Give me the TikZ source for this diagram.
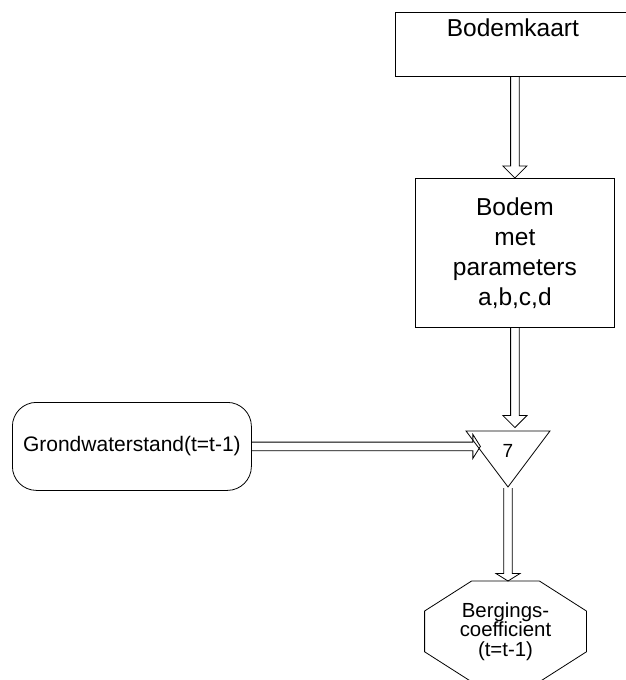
\documentclass[tikz,border=0pt]{standalone}
\usepackage{fontspec}
\setmainfont{Liberation Sans}
\usetikzlibrary{calc,shapes.geometric}

\tikzset{
  kop/.store in=\koplengte, kop=12pt,
  holpijl/.style={to path={let \p1=($(\tikztotarget)!\koplengte!(\tikztostart)$) in
    ($(\tikztostart)!4.3pt!90:(\tikztotarget)$) -- ($(\p1)!4.3pt!-90:(\tikztostart)$)
    -- ($(\p1)!12pt!-90:(\tikztostart)$) -- (\tikztotarget) -- ($(\p1)!12pt!90:(\tikztostart)$)
    -- ($(\p1)!4.3pt!90:(\tikztostart)$) -- ($(\tikztostart)!4.3pt!-90:(\tikztotarget)$)}}
}

\begin{document}
\begin{tikzpicture}[
  x=1pt,y=-1pt,
  line width=.8pt,
  doos/.style={draw,align=center,font=\fontsize{24.5}{30}\selectfont},
  afgerond/.style={draw,rounded corners=24pt,minimum width=239pt,minimum height=88pt,font=\fontsize{21}{25}\selectfont},
  driehoek/.style={draw,isosceles triangle,isosceles triangle stretches,shape border rotate=270,
    minimum width=84pt,minimum height=56pt,inner sep=0pt,font=\fontsize{19}{22}\selectfont},
  achthoek/.style={minimum width=161pt,minimum height=100pt,inner sep=0pt,align=center,font=\fontsize{20.4}{19.5}\selectfont}
]
\useasboundingbox (0,0) rectangle (625,680);
\node[doos,anchor=north west,minimum width=235pt,text height=20pt,text depth=36pt,inner ysep=4pt] (kaart) at (395,12) {Bodemkaart};
\node[doos,anchor=north west,minimum width=199pt,minimum height=149pt] (bodem) at (415,178) {Bodem\\met\\parameters\\a,b,c,d};
\node[afgerond,anchor=north west] (grond) at (12,402) {Grondwaterstand(t=t-1)};
\node[driehoek,anchor=apex] (som) at (508,488) {7};
\node[achthoek,anchor=north] (berg) at (505.5,581) {Bergings-\\coefficient\\(t=t-1)};
% achthoek om de tekst
\draw ($(berg.north west)+(47,0)$) -- ($(berg.north east)+(-47,0)$) -- ($(berg.north east)+(0,30)$)
  -- ($(berg.south east)+(0,-30)$) -- ($(berg.south east)+(-47,0)$) -- ($(berg.south west)+(47,0)$)
  -- ($(berg.south west)+(0,-30)$) -- ($(berg.north west)+(0,30)$) -- cycle;

\draw[holpijl] (bodem.north |- kaart.south) to (bodem.north);
\draw[holpijl] (bodem.south) to ($(bodem.south |- som.north)+(0,-3)$);
\draw[holpijl,kop=7.5pt] (grond.east) to (grond.east -| som.west);
\draw[holpijl,kop=7.5pt] (som.apex) to (som.apex |- berg.north);
\end{tikzpicture}
\end{document}
